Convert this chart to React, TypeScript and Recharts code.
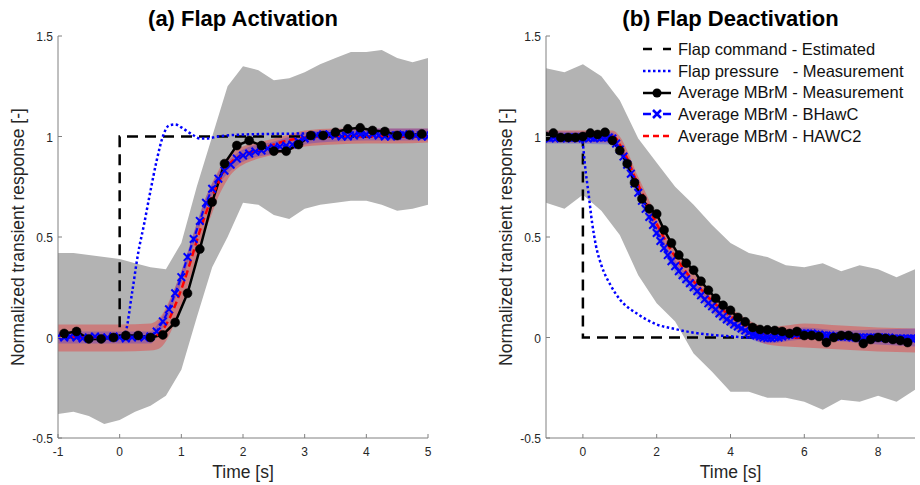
import { Area, ComposedChart, Legend, Line, XAxis, YAxis } from 'recharts';

const grid = (start: number, step: number, n: number) =>
  Array.from({ length: n }, (_, i) => Math.round((start + i * step) * 100) / 100);

// ---------- (a) Flap Activation ----------
const ACT_BAND_X = [-1, -0.75, -0.5, -0.25, 0, 0.25, 0.5, 0.75, 1, 1.25, 1.5, 1.75, 2, 2.25, 2.5, 2.75, 3, 3.25, 3.5, 3.75, 4, 4.25, 4.5, 4.75, 5];
const ACT_BAND_LO = [-0.38, -0.37, -0.39, -0.43, -0.41, -0.37, -0.34, -0.29, -0.16, 0.1, 0.35, 0.5, 0.67, 0.66, 0.61, 0.59, 0.64, 0.66, 0.67, 0.68, 0.68, 0.66, 0.63, 0.64, 0.66];
const ACT_BAND_HI = [0.42, 0.42, 0.41, 0.4, 0.39, 0.37, 0.35, 0.34, 0.47, 0.75, 1.0, 1.25, 1.35, 1.33, 1.28, 1.29, 1.32, 1.36, 1.39, 1.42, 1.42, 1.43, 1.39, 1.37, 1.39];

const ACT_RED_X = [-1, -0.5, 0, 0.5, 0.6, 0.7, 0.8, 0.9, 1.0, 1.1, 1.2, 1.3, 1.4, 1.5, 1.6, 1.7, 1.8, 1.9, 2.0, 2.25, 2.5, 2.75, 3.0, 3.5, 4.0, 4.5, 5.0];
const ACT_RED_LO = [-0.07, -0.07, -0.07, -0.065, -0.06, -0.04, 0.01, 0.08, 0.16, 0.25, 0.35, 0.45, 0.54, 0.62, 0.7, 0.76, 0.81, 0.84, 0.86, 0.89, 0.91, 0.93, 0.95, 0.96, 0.965, 0.965, 0.97];
const ACT_RED_HI = [0.065, 0.065, 0.065, 0.07, 0.085, 0.12, 0.18, 0.25, 0.33, 0.42, 0.52, 0.61, 0.7, 0.77, 0.83, 0.88, 0.91, 0.935, 0.95, 0.97, 0.99, 1.01, 1.03, 1.04, 1.04, 1.04, 1.04];

const ACT_BLUE_X = [-1, 0.5, 0.6, 0.7, 0.8, 0.9, 1.0, 1.2, 1.4, 1.6, 1.8, 2.0, 2.5, 3.0, 3.5, 4.0, 5.0];
const ACT_BLUE_LO = [-0.03, -0.03, 0.0, 0.05, 0.11, 0.19, 0.27, 0.46, 0.64, 0.76, 0.83, 0.875, 0.915, 0.96, 0.975, 0.98, 0.98];
const ACT_BLUE_HI = [0.03, 0.03, 0.06, 0.11, 0.17, 0.25, 0.33, 0.52, 0.7, 0.82, 0.89, 0.935, 0.975, 1.02, 1.035, 1.04, 1.04];

const ACT_CMD_X = [-1, 0, 0, 5];
const ACT_CMD_Y = [0, 0, 1, 1];

const ACT_PRESS_X = [-1, 0.05, 0.1, 0.2, 0.3, 0.4, 0.5, 0.6, 0.7, 0.8, 0.9, 1.0, 1.1, 1.2, 1.3, 1.4, 1.6, 2.0, 3.0, 4.0, 5.0];
const ACT_PRESS_Y = [0, 0, 0.03, 0.22, 0.42, 0.57, 0.73, 0.88, 1.0, 1.055, 1.06, 1.045, 1.025, 1.005, 0.99, 0.99, 1.0, 1.01, 1.015, 1.02, 1.02];

const ACT_MEAS_X = grid(-0.9, 0.2, 30);
const ACT_MEAS_Y = [0.02, 0.03, -0.007, -0.007, 0.0, 0.01, 0.01, 0.0, 0.013, 0.075, 0.22, 0.44, 0.674, 0.865, 0.955, 0.98, 0.955, 0.927, 0.927, 0.96, 1.005, 1.005, 1.021, 1.038, 1.043, 1.03, 1.025, 1.005, 1.008, 1.013];

const ACT_BHAWC_X = grid(-1, 0.1, 61);
const ACT_BHAWC_Y = [
  0.005, 0.0, 0.005, 0.0, -0.005, 0.0, 0.005, 0.0, 0.0, 0.005, 0.0, -0.005, 0.0, 0.005, 0.0, 0.005,
  0.03, 0.08, 0.14, 0.22, 0.3, 0.4, 0.49, 0.58, 0.67, 0.74, 0.79, 0.83, 0.86, 0.89, 0.905, 0.915, 0.925, 0.93, 0.94, 0.945, 0.95, 0.955, 0.96, 0.975, 0.99,
  1.0, 1.005, 1.01, 1.01, 1.005, 1.0, 1.0, 1.005, 1.01, 1.01, 1.01, 1.005, 1.0, 1.0, 1.005, 1.01, 1.01, 1.005, 1.0, 1.0,
];

const ACT_HAWC2_X = [-1, -0.5, 0, 0.5, 0.6, 0.7, 0.8, 0.9, 1.0, 1.1, 1.2, 1.3, 1.4, 1.5, 1.6, 1.7, 1.8, 1.9, 2.0, 2.2, 2.4, 2.6, 2.8, 3.0, 3.5, 4.0, 4.5, 5.0];
const ACT_HAWC2_Y = [0, 0, 0, 0, 0.01, 0.04, 0.09, 0.16, 0.24, 0.33, 0.43, 0.53, 0.62, 0.7, 0.77, 0.83, 0.87, 0.895, 0.91, 0.93, 0.95, 0.97, 0.985, 0.995, 1.0, 1.0, 1.0, 1.0];

// ---------- (b) Flap Deactivation ----------
const DEA_BAND_X = [-1, -0.5, 0, 0.5, 1, 1.5, 2, 2.5, 3, 3.5, 4, 4.5, 5, 5.5, 6, 6.5, 7, 7.5, 8, 8.5, 9];
const DEA_BAND_LO = [0.67, 0.64, 0.71, 0.63, 0.51, 0.31, 0.17, 0.08, -0.08, -0.17, -0.27, -0.27, -0.3, -0.3, -0.32, -0.36, -0.31, -0.32, -0.29, -0.32, -0.26];
const DEA_BAND_HI = [1.34, 1.32, 1.36, 1.3, 1.18, 0.99, 0.87, 0.75, 0.66, 0.56, 0.47, 0.42, 0.4, 0.36, 0.35, 0.37, 0.33, 0.36, 0.34, 0.3, 0.34];

const DEA_RED_X = [-1, 0.8, 1.0, 1.2, 1.4, 1.6, 1.8, 2.0, 2.5, 3.0, 3.5, 4.0, 4.5, 5.0, 5.5, 6.0, 7.0, 8.0, 9.0];
const DEA_RED_LO = [0.97, 0.97, 0.92, 0.85, 0.76, 0.68, 0.6, 0.525, 0.36, 0.24, 0.135, 0.06, 0.005, -0.035, -0.045, -0.05, -0.06, -0.07, -0.075];
const DEA_RED_HI = [1.03, 1.03, 1.0, 0.93, 0.84, 0.76, 0.68, 0.605, 0.44, 0.32, 0.215, 0.145, 0.085, 0.05, 0.06, 0.07, 0.06, 0.05, 0.045];

const DEA_BLUE_X = [-1, 0.8, 1.0, 1.5, 2.0, 2.5, 3.0, 3.5, 4.0, 4.5, 5.0, 6.0, 7.0, 8.0, 9.0];
const DEA_BLUE_LO = [0.965, 0.96, 0.905, 0.69, 0.49, 0.325, 0.22, 0.125, 0.05, -0.005, -0.03, -0.01, -0.02, -0.035, -0.045];
const DEA_BLUE_HI = [1.025, 1.02, 0.965, 0.75, 0.55, 0.385, 0.28, 0.185, 0.11, 0.055, 0.025, 0.05, 0.035, 0.04, 0.045];

const DEA_CMD_X = [-1, 0, 0, 9];
const DEA_CMD_Y = [1, 1, 0, 0];

const DEA_PRESS_X = [-1, -0.05, 0, 0.06, 0.15, 0.25, 0.35, 0.5, 0.75, 1.0, 1.5, 2.0, 2.5, 3.0, 3.5, 4.0, 4.5, 9.0];
const DEA_PRESS_Y = [1, 1, 0.96, 0.85, 0.72, 0.57, 0.46, 0.36, 0.26, 0.19, 0.115, 0.065, 0.042, 0.024, 0.013, 0.006, 0.0, 0.0];

const DEA_MEAS_X = grid(-1, 0.2, 50);
const DEA_MEAS_Y = [
  1.0, 1.017, 0.995, 0.995, 0.995, 1.0, 1.017, 1.01, 1.021, 0.98,
  0.93, 0.865, 0.77, 0.69, 0.64, 0.615, 0.535, 0.47, 0.41, 0.37,
  0.335, 0.28, 0.235, 0.195, 0.16, 0.135, 0.1, 0.078, 0.05, 0.04,
  0.038, 0.035, 0.03, 0.02, 0.03, 0.01, 0.01, 0.005, -0.025, 0.0,
  0.01, 0.01, 0.0, -0.03, -0.01, 0.0, -0.005, -0.01, -0.015, -0.025,
];

const DEA_BHAWC_X = grid(-1, 0.1, 101);
const DEA_BHAWC_Y = [
  0.995, 0.99, 0.995, 0.995, 0.99, 0.995, 0.995, 0.99, 0.995, 0.995, 0.99, 0.995, 0.995, 0.99, 0.995, 0.995, 0.995, 0.995,
  0.99, 0.965, 0.935, 0.9, 0.86, 0.815, 0.765, 0.72, 0.68, 0.64,
  0.6, 0.56, 0.52, 0.48, 0.445, 0.41, 0.38, 0.355, 0.33, 0.31,
  0.29, 0.27, 0.25, 0.23, 0.21, 0.19, 0.17, 0.155, 0.14, 0.12,
  0.105, 0.09, 0.08, 0.065, 0.055, 0.045, 0.035, 0.025, 0.015, 0.01,
  0.005, 0.0,
  -0.003, -0.003, 0.0, 0.0, 0.005, 0.01, 0.015, 0.02, 0.02, 0.02, 0.02,
  0.02, 0.02, 0.015, 0.015, 0.01, 0.01, 0.01, 0.005, 0.005, 0.005,
  0.005, 0.005, 0.0, 0.0, 0.0, 0.0, 0.0, 0.0, 0.0, 0.0,
  0.0, 0.0, 0.0, -0.005, -0.005, -0.005, -0.005, -0.005, -0.005, -0.005,
];

const DEA_HAWC2_X = [-1, 0, 0.8, 0.9, 1.0, 1.2, 1.4, 1.6, 1.8, 2.0, 2.2, 2.4, 2.6, 2.8, 3.0, 3.2, 3.4, 3.6, 3.8, 4.0, 4.2, 4.4, 4.6, 4.8, 5.0, 5.2, 5.5, 6, 7, 8, 9];
const DEA_HAWC2_Y = [1.0, 1.0, 1.0, 0.99, 0.96, 0.89, 0.8, 0.72, 0.64, 0.565, 0.495, 0.43, 0.375, 0.325, 0.28, 0.24, 0.2, 0.165, 0.135, 0.105, 0.08, 0.06, 0.04, 0.02, 0.01, 0.0, 0.0, 0.0, 0.0, 0.0, 0.0];

const Y_TICKS = [-0.5, 0, 0.5, 1, 1.5];
const ACT_X_TICKS = [-1, 0, 1, 2, 3, 4, 5];
const DEA_X_TICKS = [0, 2, 4, 6, 8];

const LEGEND_ITEMS = [
  { name: 'Flap command - Estimated', kind: 'cmd' },
  { name: 'Flap pressure   - Measurement', kind: 'press' },
  { name: 'Average MBrM - Measurement', kind: 'meas' },
  { name: 'Average MBrM - BHawC', kind: 'bhawc' },
  { name: 'Average MBrM - HAWC2', kind: 'hawc2' },
];

const FONT = 'Arial, "Liberation Sans", Helvetica, sans-serif';
const AXIS = '#808080';
const TXT = '#262626';
const GRAY = '#b3b3b3';
const RED = '#ff0000';
const BLUE = '#0000ff';

const pts = (xs: number[], ys: number[]) => xs.map((x, i) => ({ x, y: ys[i] }));
const band = (xs: number[], lo: number[], hi: number[]) => xs.map((x, i) => ({ x, r: [lo[i], hi[i]] }));

const LeftTick = (p: any) => (
  <g>
    <line x1={p.x + 5} x2={p.x + 9} y1={p.y} y2={p.y} stroke={AXIS} />
    <text x={p.x} y={p.y} dy={5} textAnchor="end" fontSize={12} fill={TXT}>{String(p.payload.value)}</text>
  </g>
);
const RightTick = (p: any) => <line x1={p.x} x2={p.x - 4} y1={p.y} y2={p.y} stroke={AXIS} />;
const BottomTick = (p: any) => (
  <g>
    <line x1={p.x} x2={p.x} y1={p.y - 4} y2={p.y - 8} stroke={AXIS} />
    <text x={p.x} y={p.y} dy={14} textAnchor="middle" fontSize={12} fill={TXT}>{String(p.payload.value)}</text>
  </g>
);
const TopTick = (p: any) => <line x1={p.x} x2={p.x} y1={p.y} y2={p.y + 4} stroke={AXIS} />;

const XMark = (p: any) => {
  const { cx, cy, index } = p;
  if (cx == null || cy == null) return <g key={`x${index}`} />;
  const s = 3.8;
  return (
    <path
      key={`x${index}`}
      d={`M${cx - s},${cy - s}L${cx + s},${cy + s}M${cx - s},${cy + s}L${cx + s},${cy - s}`}
      stroke={BLUE}
      strokeWidth={2}
      strokeDasharray="none"
      fill="none"
    />
  );
};

const LegendBox = () => (
  <div style={{ fontFamily: FONT, fontSize: 16.5, color: '#111' }}>
    {LEGEND_ITEMS.map((it) => (
      <div key={it.kind} style={{ display: 'flex', alignItems: 'center', height: 21.7 }}>
        <svg width={34} height={22} style={{ marginRight: 4 }}>
          {it.kind === 'cmd' && <line x1={3} x2={31} y1={11} y2={11} stroke="#000" strokeWidth={2.5} strokeDasharray="9 11" />}
          {it.kind === 'press' && <line x1={3} x2={31} y1={11} y2={11} stroke={BLUE} strokeWidth={2.5} strokeDasharray="2.5 2.5" />}
          {it.kind === 'meas' && (
            <g>
              <line x1={3} x2={31} y1={11} y2={11} stroke="#000" strokeWidth={2.5} />
              <circle cx={17} cy={11} r={4.5} fill="#000" />
            </g>
          )}
          {it.kind === 'bhawc' && (
            <g>
              <line x1={3} x2={31} y1={11} y2={11} stroke={BLUE} strokeWidth={2.5} strokeDasharray="8 12 8" />
              <path d="M13,7L21,15M13,15L21,7" stroke={BLUE} strokeWidth={2.5} />
            </g>
          )}
          {it.kind === 'hawc2' && <line x1={3} x2={31} y1={11} y2={11} stroke={RED} strokeWidth={2.5} strokeDasharray="6 4" />}
        </svg>
        <span style={{ whiteSpace: 'pre' }}>{it.name}</span>
      </div>
    ))}
  </div>
);

interface PanelProps {
  title: string;
  left: number;
  yAxisWidth: number;
  marginRight: number;
  xDomain: [number, number];
  xTicks: number[];
  bandData: { x: number; r: number[] }[];
  redBand: { x: number; r: number[] }[];
  blueBand: { x: number; r: number[] }[];
  cmd: { x: number; y: number }[];
  press: { x: number; y: number }[];
  meas: { x: number; y: number }[];
  bhawc: { x: number; y: number }[];
  hawc2: { x: number; y: number }[];
  showLegend?: boolean;
}

const Panel = (p: PanelProps) => {
  const W = 460;
  const H = 485;
  const plotW = W - p.yAxisWidth - p.marginRight;
  return (
    <div style={{ position: 'absolute', left: p.left, top: 0, width: W, height: H }}>
      <div
        style={{
          position: 'absolute',
          left: p.yAxisWidth,
          width: plotW,
          top: 7,
          textAlign: 'center',
          fontSize: 22,
          fontWeight: 'bold',
          lineHeight: '24px',
          color: '#000',
        }}
      >
        {p.title}
      </div>
      <ComposedChart width={W} height={H} margin={{ top: 36, right: p.marginRight, bottom: 0, left: 0 }}>
        <XAxis
          type="number"
          dataKey="x"
          domain={p.xDomain}
          ticks={p.xTicks}
          interval={0}
          allowDataOverflow
          height={47}
          tickSize={0}
          tickMargin={4}
          tickLine={false}
          axisLine={{ stroke: AXIS }}
          tick={BottomTick}
          label={{ value: 'Time [s]', position: 'insideBottom', offset: 7, style: { fontSize: 17.5, fill: TXT } }}
        />
        <XAxis
          xAxisId="top"
          orientation="top"
          type="number"
          dataKey="x"
          domain={p.xDomain}
          ticks={p.xTicks}
          interval={0}
          allowDataOverflow
          height={0}
          tickSize={0}
          tickMargin={0}
          tickLine={false}
          axisLine={{ stroke: AXIS }}
          tick={TopTick}
        />
        <YAxis
          type="number"
          domain={[-0.5, 1.5]}
          ticks={Y_TICKS}
          interval={0}
          allowDataOverflow
          width={p.yAxisWidth}
          tickSize={0}
          tickMargin={5}
          tickLine={false}
          axisLine={{ stroke: AXIS }}
          tick={LeftTick}
          label={{
            value: 'Normalized transient response [-]',
            angle: -90,
            position: 'insideLeft',
            offset: p.yAxisWidth - 40,
            style: { fontSize: 17.5, fill: TXT, textAnchor: 'middle' },
          }}
        />
        <YAxis
          yAxisId="right"
          orientation="right"
          type="number"
          domain={[-0.5, 1.5]}
          ticks={Y_TICKS}
          interval={0}
          allowDataOverflow
          width={0}
          tickSize={0}
          tickMargin={0}
          tickLine={false}
          axisLine={{ stroke: AXIS }}
          tick={RightTick}
        />
        <Area data={p.bandData} dataKey="r" type="linear" stroke="none" fill={GRAY} fillOpacity={1} isAnimationActive={false} legendType="none" />
        <Line data={p.cmd} dataKey="y" type="linear" stroke="#000" strokeWidth={2.5} strokeDasharray="11 7" dot={false} isAnimationActive={false} legendType="none" />
        <Line data={p.press} dataKey="y" type="monotone" stroke={BLUE} strokeWidth={2.5} strokeDasharray="2.5 2.5" dot={false} isAnimationActive={false} legendType="none" />
        <Area data={p.redBand} dataKey="r" type="monotone" stroke="none" fill={RED} fillOpacity={0.3} isAnimationActive={false} legendType="none" />
        <Area data={p.blueBand} dataKey="r" type="monotone" stroke="none" fill={BLUE} fillOpacity={0.22} isAnimationActive={false} legendType="none" />
        <Line data={p.bhawc} dataKey="y" type="linear" stroke={BLUE} strokeWidth={2} strokeDasharray="6 3" dot={XMark} isAnimationActive={false} legendType="none" />
        <Line data={p.meas} dataKey="y" type="linear" stroke="#000" strokeWidth={2.5} dot={{ r: 4.5, fill: '#000', stroke: '#000', strokeWidth: 0.5 }} isAnimationActive={false} legendType="none" />
        <Line data={p.hawc2} dataKey="y" type="monotone" stroke={RED} strokeWidth={2.5} strokeDasharray="7 4" dot={false} isAnimationActive={false} legendType="none" />
        {p.showLegend && (
          <Legend
            layout="horizontal"
            verticalAlign="middle"
            align="center"
            content={LegendBox}
            wrapperStyle={{ top: 38.5, left: 180, width: 275, height: 110 }}
          />
        )}
      </ComposedChart>
    </div>
  );
};

const App = () => (
  <div style={{ position: 'absolute', left: 0, top: 0, width: 920, height: 485, background: '#fff', fontFamily: FONT }}>
    <Panel
      title="(a) Flap Activation"
      left={0}
      yAxisWidth={58}
      marginRight={32}
      xDomain={[-1, 5]}
      xTicks={ACT_X_TICKS}
      bandData={band(ACT_BAND_X, ACT_BAND_LO, ACT_BAND_HI)}
      redBand={band(ACT_RED_X, ACT_RED_LO, ACT_RED_HI)}
      blueBand={band(ACT_BLUE_X, ACT_BLUE_LO, ACT_BLUE_HI)}
      cmd={pts(ACT_CMD_X, ACT_CMD_Y)}
      press={pts(ACT_PRESS_X, ACT_PRESS_Y)}
      meas={pts(ACT_MEAS_X, ACT_MEAS_Y)}
      bhawc={pts(ACT_BHAWC_X, ACT_BHAWC_Y)}
      hawc2={pts(ACT_HAWC2_X, ACT_HAWC2_Y)}
    />
    <Panel
      title="(b) Flap Deactivation"
      left={460}
      yAxisWidth={86}
      marginRight={5}
      xDomain={[-1, 9]}
      xTicks={DEA_X_TICKS}
      bandData={band(DEA_BAND_X, DEA_BAND_LO, DEA_BAND_HI)}
      redBand={band(DEA_RED_X, DEA_RED_LO, DEA_RED_HI)}
      blueBand={band(DEA_BLUE_X, DEA_BLUE_LO, DEA_BLUE_HI)}
      cmd={pts(DEA_CMD_X, DEA_CMD_Y)}
      press={pts(DEA_PRESS_X, DEA_PRESS_Y)}
      meas={pts(DEA_MEAS_X, DEA_MEAS_Y)}
      bhawc={pts(DEA_BHAWC_X, DEA_BHAWC_Y)}
      hawc2={pts(DEA_HAWC2_X, DEA_HAWC2_Y)}
      showLegend
    />
  </div>
);

export default App;
